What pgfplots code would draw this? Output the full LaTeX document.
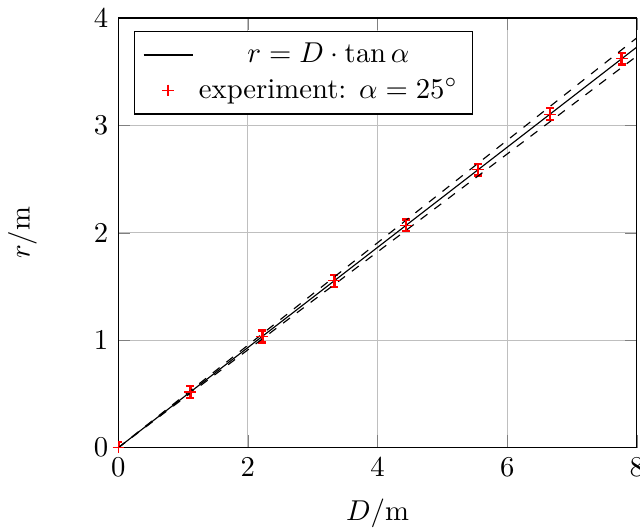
\documentclass[border=0pt]{standalone}
\usepackage{pgfplots}
\pgfplotsset{compat=1.18}
\usetikzlibrary{calc}

\begin{document}
\begin{tikzpicture}
\begin{axis}[scale only axis,width=180.7pt,height=149.7pt,
	xmin=0,xmax=8,ymin=0,ymax=4,
	xtick={0,2,4,6,8},ytick={0,1,2,3,4},
	xlabel={$D/\mathrm{m}$},ylabel={$r/\mathrm{m}$},
	ylabel shift=13pt,xlabel shift=1pt,
	grid=major,
	legend pos=north west,legend cell align=center]
\addplot[black,mark=none] coordinates {(0,0) (8,3.730)};
\addlegendentry{$r = D\cdot\tan\alpha$}
\addplot[red,mark=+,only marks,
	error bars/.cd,y dir=both,y explicit,
	error bar style={red,line width=1pt},
	error mark options={red,rotate=90,mark size=1.3pt,line width=0.8pt}]
	coordinates {
	(0,0) +- (0,0.05)
	(1.11,0.518) +- (0,0.055)
	(2.22,1.035) +- (0,0.055)
	(3.33,1.553) +- (0,0.055)
	(4.44,2.070) +- (0,0.055)
	(5.55,2.588) +- (0,0.055)
	(6.66,3.106) +- (0,0.055)
	(7.77,3.623) +- (0,0.055)
	};
\addlegendentry{experiment: $\alpha = 25^\circ$}
\addplot[black,dashed,mark=none,forget plot] coordinates {(0,0) (8,3.816)};
\addplot[black,dashed,mark=none,forget plot] coordinates {(0,0) (8,3.646)};
\end{axis}
\pgfresetboundingbox
\path[use as bounding box] ($(current axis.south west)+(-41.2pt,-28.9pt)$) rectangle ($(current axis.north east)+(1.1pt,6.3pt)$);
\end{tikzpicture}
\end{document}
